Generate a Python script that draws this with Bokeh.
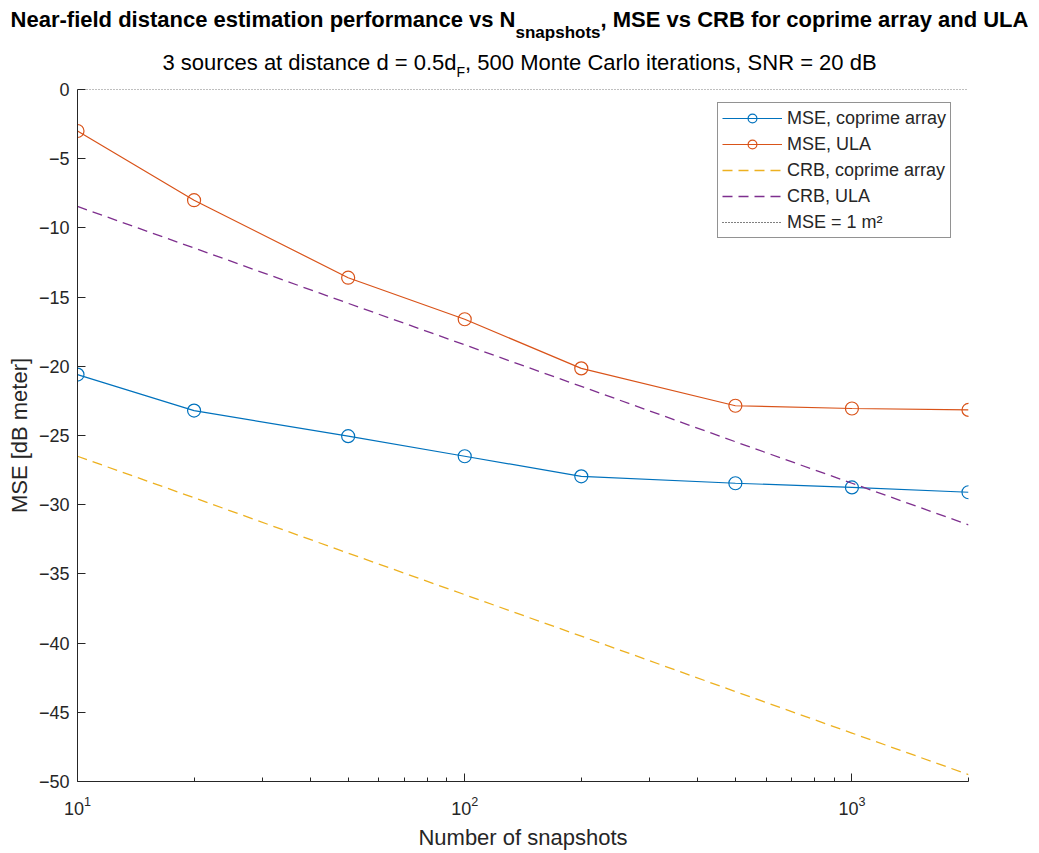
from bokeh.plotting import figure
from bokeh.layouts import column
from bokeh.models import FixedTicker, Legend, LegendItem, LogTickFormatter, Div
from bokeh.embed import file_html
from bokeh.resources import INLINE

# ---------------- data ----------------
snapshots = [10, 20, 50, 100, 200, 500, 1000, 2000]
mse_coprime = [-20.6, -23.2, -25.05, -26.5, -27.95, -28.45, -28.75, -29.1]
mse_ula = [-3.0, -8.0, -13.6, -16.6, -20.15, -22.85, -23.05, -23.15]
crb_coprime = [-26.5, -29.5, -33.5, -36.5, -39.5, -43.5, -46.5, -49.5]
crb_ula = [-8.45, -11.45, -15.45, -18.45, -21.45, -25.45, -28.45, -31.45]
ref_x = [10, 2000]
mse_one_m2 = [0, 0]

y_ticks = [0, -5, -10, -15, -20, -25, -30, -35, -40, -45, -50]
y_tick_labels = ["0", "\u22125", "\u221210", "\u221215", "\u221220", "\u221225",
                 "\u221230", "\u221235", "\u221240", "\u221245", "\u221250"]
x_major_ticks = [10, 100, 1000]
x_minor_ticks = [20, 30, 40, 50, 60, 70, 80, 90,
                 200, 300, 400, 500, 600, 700, 800, 900, 2000]

legend_labels = ["MSE, coprime array", "MSE, ULA", "CRB, coprime array",
                 "CRB, ULA", "MSE = 1 m\u00b2"]
title_main = "Near-field distance estimation performance vs N"
title_sub = "snapshots"
title_rest = ", MSE vs CRB for coprime array and ULA"
subtitle_main = "3 sources at distance d = 0.5d"
subtitle_sub = "F"
subtitle_rest = ", 500 Monte Carlo iterations, SNR = 20 dB"
x_label = "Number of snapshots"
y_label = "MSE [dB meter]"

# ---------------- style ----------------
FONT = "Liberation Sans"
AX = "#262626"
C_BLUE = "#0072BD"
C_ORANGE = "#D95319"
C_YELLOW = "#EDB120"
C_PURPLE = "#7E2F8E"

TITLE_H = 79

# ---------------- title block (real text with subscripts) ----------------
title_html = (
    f'<div style="width:1039px;height:{TITLE_H}px;margin:0;padding:0;'
    f'font-family:\'{FONT}\';color:#000;text-align:center;white-space:nowrap;">'
    f'<div style="padding-top:7px;font-size:22px;line-height:26px;font-weight:bold;">'
    f'{title_main}<span style="font-size:17px;position:relative;top:11px;">{title_sub}</span>{title_rest}'
    f'</div>'
    f'<div style="margin-top:15px;font-size:22px;line-height:26px;font-weight:normal;">'
    f'{subtitle_main}<span style="font-size:14px;position:relative;top:7px;">{subtitle_sub}</span>{subtitle_rest}'
    f'</div>'
    f'</div>'
)
title_div = Div(text=title_html, width=1039, height=TITLE_H, margin=0)

# ---------------- main plot ----------------
p = figure(x_axis_type="log", x_range=(10, 2000), y_range=(-50, 0),
           frame_width=891, frame_height=692,
           min_border_left=77, min_border_right=71,
           min_border_top=89 - TITLE_H, min_border_bottom=72,
           output_backend="svg", toolbar_location=None, margin=0)
p.outline_line_color = None
p.grid.visible = False
p.background_fill_color = "white"
p.border_fill_color = "white"

p.xaxis.ticker = FixedTicker(ticks=x_major_ticks, minor_ticks=x_minor_ticks)
p.xaxis.formatter = LogTickFormatter()
p.yaxis.ticker = FixedTicker(ticks=y_ticks)
p.yaxis.major_label_overrides = {t: s for t, s in zip(y_ticks, y_tick_labels)}
for ax in (p.xaxis[0], p.yaxis[0]):
    ax.axis_line_color = AX
    ax.axis_line_width = 1
    ax.major_tick_line_color = AX
    ax.minor_tick_line_color = AX
    ax.major_tick_in = 8
    ax.major_tick_out = 0
    ax.minor_tick_in = 4
    ax.minor_tick_out = 0
    ax.major_label_text_font = FONT
    ax.major_label_text_font_size = "18px"
    ax.major_label_text_color = AX
    ax.axis_label_text_font = FONT
    ax.axis_label_text_font_size = "22px"
    ax.axis_label_text_font_style = "normal"
    ax.axis_label_text_color = AX
p.yaxis.minor_tick_line_color = None
p.xaxis.axis_label = x_label
p.yaxis.axis_label = y_label
p.xaxis.major_label_standoff = 14
p.xaxis.axis_label_standoff = 7
p.yaxis.major_label_standoff = 8
p.yaxis.axis_label_standoff = 4

r1l = p.line(snapshots, mse_coprime, line_color=C_BLUE, line_width=1.2)
r1m = p.scatter(snapshots, mse_coprime, marker="circle", size=13,
                line_color=C_BLUE, line_width=1.2, fill_alpha=0)
r2l = p.line(snapshots, mse_ula, line_color=C_ORANGE, line_width=1.2)
r2m = p.scatter(snapshots, mse_ula, marker="circle", size=13,
                line_color=C_ORANGE, line_width=1.2, fill_alpha=0)
r3 = p.line(snapshots, crb_coprime, line_color=C_YELLOW, line_width=1.3,
            line_dash="10 6")
r4 = p.line(snapshots, crb_ula, line_color=C_PURPLE, line_width=1.3,
            line_dash="10 6")
r5 = p.line(ref_x, mse_one_m2, line_color="#000000", line_width=1,
            line_dash="1 2")

legend = Legend(items=[
    LegendItem(label=legend_labels[0], renderers=[r1l, r1m]),
    LegendItem(label=legend_labels[1], renderers=[r2l, r2m]),
    LegendItem(label=legend_labels[2], renderers=[r3]),
    LegendItem(label=legend_labels[3], renderers=[r4]),
    LegendItem(label=legend_labels[4], renderers=[r5]),
], location=(640, 543))
legend.label_text_font = FONT
legend.label_text_font_size = "18px"
legend.label_text_color = AX
legend.glyph_width = 60
legend.glyph_height = 22
legend.label_height = 22
legend.label_standoff = 5
legend.spacing = 4
legend.padding = 4
legend.margin = 0
legend.border_line_color = AX
legend.border_line_width = 1
legend.background_fill_color = "white"
legend.background_fill_alpha = 1
p.add_layout(legend)

layout = column(title_div, p, spacing=0)
open("out.html", "w").write(file_html(layout, INLINE))
